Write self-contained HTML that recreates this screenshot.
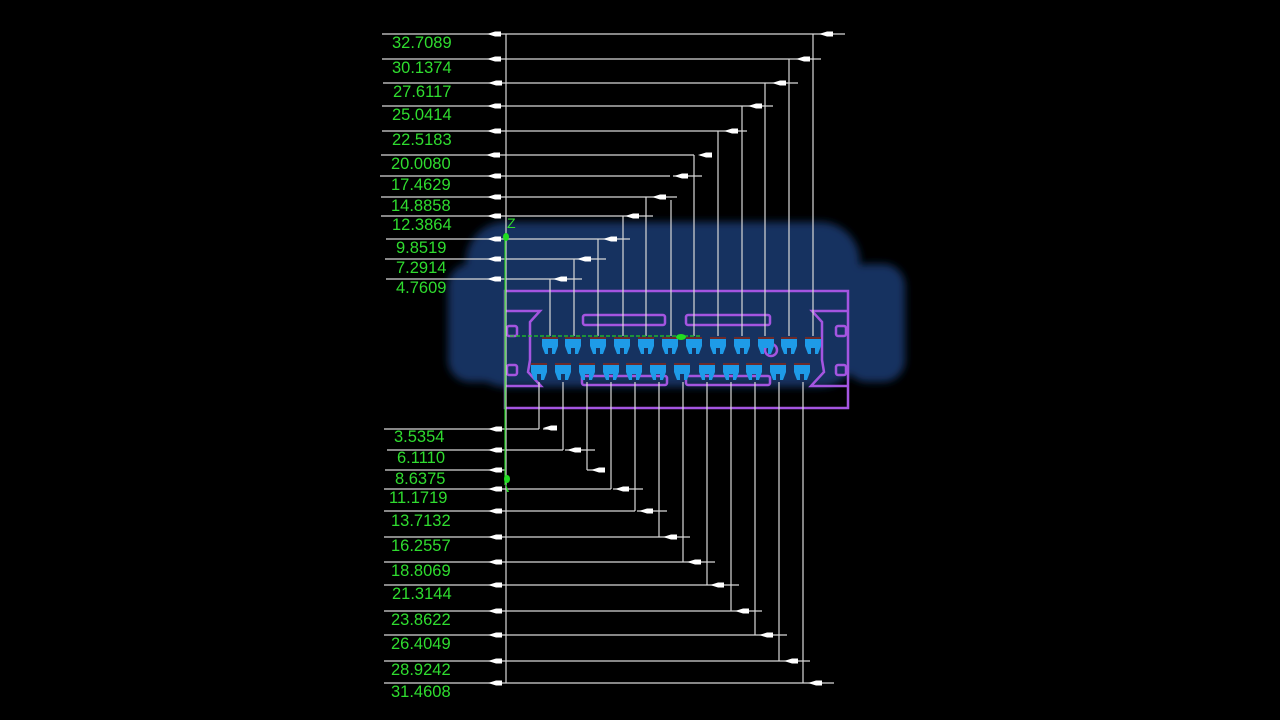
<!DOCTYPE html>
<html><head><meta charset="utf-8"><style>
html,body{margin:0;padding:0;background:#000;width:1280px;height:720px;overflow:hidden}
svg{display:block}
text{font-family:"Liberation Sans",sans-serif;font-size:16.5px;fill:#2fdc2f}
</style></head><body>
<svg width="1280" height="720" viewBox="0 0 1280 720" xmlns="http://www.w3.org/2000/svg">
<defs>
<filter id="bl" x="-10%" y="-10%" width="120%" height="120%"><feGaussianBlur stdDeviation="4"/></filter>
<g id="pin"><path d="M-8,0 h16 v8 l-3,8 h-3 v-6 h-4 v6 h-3 l-3,-8 z" fill="#1e9be8"/><rect x="-8" y="-1" width="16" height="2" fill="#6b2a2a"/></g>
<path id="arr" d="M0,0 l8,-2.5 h6 v5 h-6 z" fill="#fff"/>
</defs>
<!-- blue body -->
<g fill="#143260" filter="url(#bl)">
<rect x="466" y="222" width="394" height="165" rx="40"/>
<rect x="448" y="264" width="58" height="118" rx="22"/>
<rect x="845" y="264" width="60" height="118" rx="22"/>
</g>
<!-- purple outline -->
<g fill="none" stroke="#a455e0" stroke-width="2.5">
<rect x="505" y="291" width="343" height="117"/>
<path d="M505,311 H540 L530,322 V360 L528,372 L541,386 H505"/>
<path d="M848,311 H812 L822,322 V360 L824,372 L811,386 H848"/>
<rect x="583" y="315" width="82" height="10" rx="2"/>
<rect x="686" y="315" width="84" height="10" rx="2"/>
<rect x="582" y="376" width="85" height="9" rx="2"/>
<rect x="686" y="376" width="84" height="9" rx="2"/>
<rect x="507" y="326" width="10" height="10" rx="2"/>
<rect x="507" y="365" width="10" height="10" rx="2"/>
<rect x="836" y="326" width="10" height="10" rx="2"/>
<rect x="836" y="365" width="10" height="10" rx="2"/>
<circle cx="771" cy="350" r="6"/>
</g>
<!-- pins -->
<g>
<use href="#pin" x="550" y="338"/><use href="#pin" x="573" y="338"/><use href="#pin" x="598" y="338"/><use href="#pin" x="622" y="338"/><use href="#pin" x="646" y="338"/><use href="#pin" x="670" y="338"/><use href="#pin" x="694" y="338"/><use href="#pin" x="718" y="338"/><use href="#pin" x="742" y="338"/><use href="#pin" x="766" y="338"/><use href="#pin" x="789" y="338"/><use href="#pin" x="813" y="338"/>
<use href="#pin" x="539" y="364"/><use href="#pin" x="563" y="364"/><use href="#pin" x="587" y="364"/><use href="#pin" x="611" y="364"/><use href="#pin" x="634" y="364"/><use href="#pin" x="658" y="364"/><use href="#pin" x="682" y="364"/><use href="#pin" x="707" y="364"/><use href="#pin" x="731" y="364"/><use href="#pin" x="754" y="364"/><use href="#pin" x="778" y="364"/><use href="#pin" x="802" y="364"/>
</g>
<!-- dimension lines -->
<g stroke="#d8d8d8" stroke-width="1.2" fill="none">
<line x1="506" y1="34" x2="506" y2="683"/>
<path d="M382,34 H845 M813,34 V290"/>
<path d="M382,59 H821 M789,59 V290"/>
<path d="M383,83 H798 M765,83 V290"/>
<path d="M382,106 H773 M742,106 V290"/>
<path d="M382,131 H747 M718,131 V290"/>
<path d="M381,155 H694 M700,155 H712 M694,155 V290"/>
<path d="M380,176 H670 M673,176 H702 M671,200 V290"/>
<path d="M381,197 H677 M646,197 V290"/>
<path d="M381,216 H653 M623,216 V290"/>
<path d="M386,239 H630 M598,239 V290"/>
<path d="M385,259 H606 M574,259 V290"/>
<path d="M386,279 H582 M550,279 V290"/>
<path d="M550,290 V336 M574,290 V336 M598,290 V336 M623,290 V336 M646,290 V336 M671,290 V336 M694,290 V336 M718,290 V336 M742,290 V336 M765,290 V336 M789,290 V336 M813,290 V336"/>
<path d="M539,382 V429 M563,382 V450 M587,382 V470 M611,382 V489 M635,382 V511 M659,382 V537 M683,382 V562 M707,382 V585 M731,382 V611 M755,382 V635 M779,382 V661 M803,382 V683"/>
<path d="M384,429 H539 M543,429 H557"/>
<path d="M387,450 H563 M565,450 H595"/>
<path d="M385,470 H506 M587,470 H605"/>
<path d="M384,489 H611 M613,489 H643"/>
<path d="M384,511 H635 M637,511 H667"/>
<path d="M384,537 H690"/>
<path d="M384,562 H715"/>
<path d="M384,585 H739"/>
<path d="M384,611 H762"/>
<path d="M384,635 H787"/>
<path d="M384,661 H810"/>
<path d="M384,683 H834"/>
</g>
<!-- arrowheads -->
<g>
<use href="#arr" x="487" y="34"/><use href="#arr" x="487" y="59"/><use href="#arr" x="488" y="83"/><use href="#arr" x="487" y="106"/><use href="#arr" x="487" y="131"/><use href="#arr" x="486" y="155"/><use href="#arr" x="487" y="176"/><use href="#arr" x="487" y="197"/><use href="#arr" x="487" y="216"/><use href="#arr" x="487" y="239"/><use href="#arr" x="487" y="259"/><use href="#arr" x="487" y="279"/>
<use href="#arr" x="819" y="34"/><use href="#arr" x="796" y="59"/><use href="#arr" x="772" y="83"/><use href="#arr" x="748" y="106"/><use href="#arr" x="724" y="131"/><use href="#arr" x="698" y="155"/><use href="#arr" x="674" y="176"/><use href="#arr" x="652" y="197"/><use href="#arr" x="625" y="216"/><use href="#arr" x="603" y="239"/><use href="#arr" x="577" y="259"/><use href="#arr" x="553" y="279"/>
<use href="#arr" x="488" y="429"/><use href="#arr" x="488" y="450"/><use href="#arr" x="488" y="470"/><use href="#arr" x="488" y="489"/><use href="#arr" x="488" y="511"/><use href="#arr" x="488" y="537"/><use href="#arr" x="488" y="562"/><use href="#arr" x="488" y="585"/><use href="#arr" x="488" y="611"/><use href="#arr" x="488" y="635"/><use href="#arr" x="488" y="661"/><use href="#arr" x="488" y="683"/>
<use href="#arr" x="543" y="428"/><use href="#arr" x="567" y="450"/><use href="#arr" x="591" y="470"/><use href="#arr" x="615" y="489"/><use href="#arr" x="639" y="511"/><use href="#arr" x="663" y="537"/><use href="#arr" x="687" y="562"/><use href="#arr" x="710" y="585"/><use href="#arr" x="735" y="611"/><use href="#arr" x="759" y="635"/><use href="#arr" x="784" y="661"/><use href="#arr" x="808" y="683"/>
</g>
<!-- green markers -->
<g stroke="#22cc22" fill="none" stroke-width="1.2">
<line x1="505" y1="236" x2="505" y2="485"/>
<line x1="510" y1="336" x2="700" y2="336" stroke-dasharray="4,2"/>
</g>
<g fill="#22dd22">
<ellipse cx="506" cy="237" rx="3" ry="4"/>
<ellipse cx="507" cy="479" rx="3" ry="4"/>
<path d="M505,482 l4,10 l-2,0 z"/>
<ellipse cx="681" cy="337" rx="5" ry="3"/>
</g>
<text x="507" y="228" style="font-size:14px">Z</text>
<!-- labels -->
<text x="392" y="48">32.7089</text>
<text x="392" y="73">30.1374</text>
<text x="393" y="97">27.6117</text>
<text x="392" y="120">25.0414</text>
<text x="392" y="145">22.5183</text>
<text x="391" y="169">20.0080</text>
<text x="391" y="190">17.4629</text>
<text x="391" y="211">14.8858</text>
<text x="392" y="230">12.3864</text>
<text x="396" y="253">9.8519</text>
<text x="396" y="273">7.2914</text>
<text x="396" y="293">4.7609</text>
<text x="394" y="442">3.5354</text>
<text x="397" y="463">6.1110</text>
<text x="395" y="484">8.6375</text>
<text x="389" y="503">11.1719</text>
<text x="391" y="526">13.7132</text>
<text x="391" y="551">16.2557</text>
<text x="391" y="576">18.8069</text>
<text x="392" y="599">21.3144</text>
<text x="391" y="625">23.8622</text>
<text x="391" y="649">26.4049</text>
<text x="391" y="675">28.9242</text>
<text x="391" y="697">31.4608</text>
</svg>
</body></html>
